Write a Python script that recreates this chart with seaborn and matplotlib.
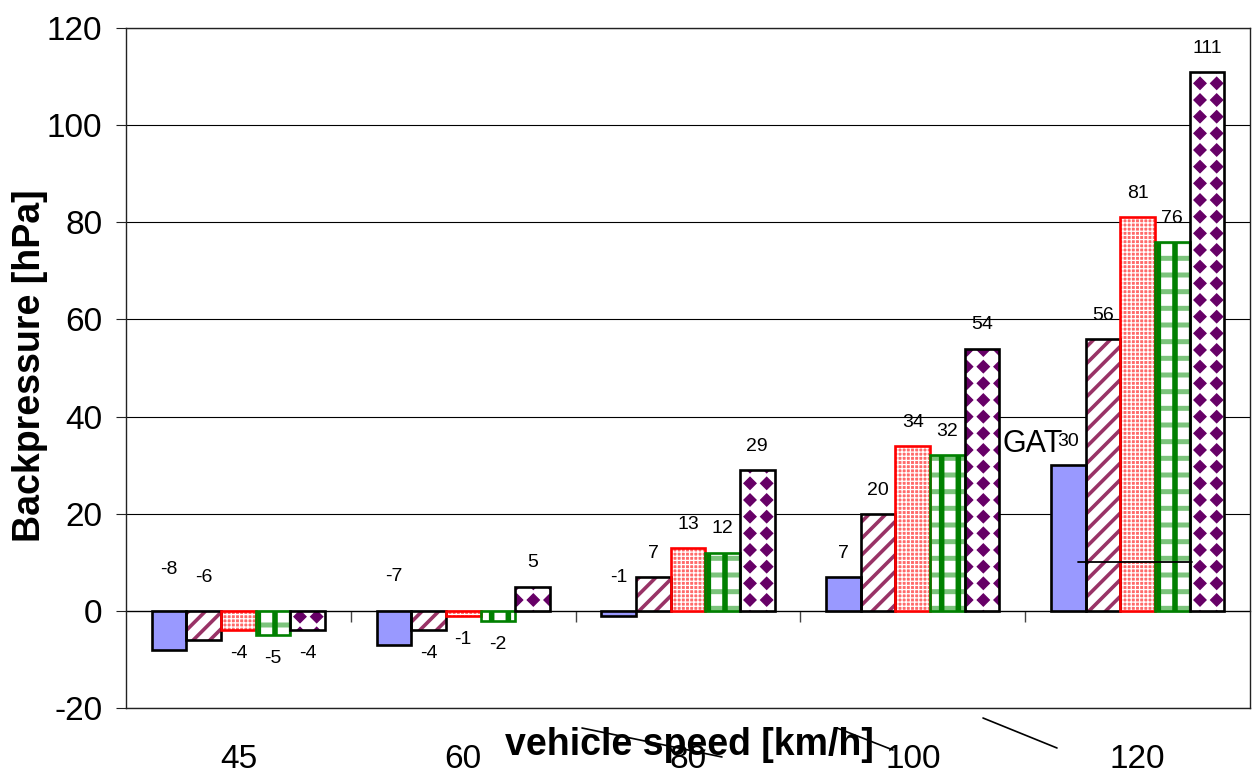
import warnings
import numpy as np
import pandas as pd
import matplotlib
matplotlib.use("Agg")
import matplotlib.pyplot as plt
import matplotlib.hatch as mhatch
from matplotlib.path import Path
from matplotlib.patches import Rectangle
from matplotlib.lines import Line2D
import seaborn as sns

warnings.filterwarnings("ignore")

# ---- data -----------------------------------------------------------------
speeds = ["45", "60", "80", "100", "120"]
variants = ["variant 1", "variant 2", "variant 3", "variant 4", "variant 5"]
variant_1 = [-8, -7, -1, 7, 30]
variant_2 = [-6, -4, 7, 20, 56]
variant_3 = [-4, -1, 13, 34, 81]
variant_4 = [-5, -2, 12, 32, 76]
variant_5 = [-4, 5, 29, 54, 111]
y_ticks = [-20, 0, 20, 40, 60, 80, 100, 120]

series = [variant_1, variant_2, variant_3, variant_4, variant_5]
df = pd.DataFrame(
    [(s, v, vals[i]) for v, vals in zip(variants, series) for i, s in enumerate(speeds)],
    columns=["speed", "variant", "backpressure"],
)


# ---- a filled-diamond hatch (grid of rhombi) ---------------------------------
class DiamondHatch(mhatch.HatchPatternBase):
    def __init__(self, hatch, density):
        self.num_rows = hatch.count("d") * density
        self.num_vertices = 5 * (self.num_rows + 1) ** 2 if self.num_rows else 0

    def set_vertices_and_codes(self, vertices, codes):
        n = self.num_rows
        step = 1.0 / n
        r = 0.36 * step
        shape = np.array([[0, -r], [r, 0], [0, r], [-r, 0], [0, -r]])
        shape_codes = [Path.MOVETO, Path.LINETO, Path.LINETO, Path.LINETO, Path.CLOSEPOLY]
        k = 0
        for i in range(n + 1):
            for j in range(n + 1):
                vertices[k:k + 5] = shape + [i * step, j * step]
                codes[k:k + 5] = shape_codes
                k += 5


mhatch._hatch_types.append(DiamondHatch)

# ---- style ------------------------------------------------------------------
sns.set_theme(style="white")
plt.rcParams["font.family"] = ["Liberation Sans", "DejaVu Sans"]
plt.rcParams["hatch.linewidth"] = 1.0
plt.rcParams["axes.unicode_minus"] = False
for key in ["text.color", "axes.labelcolor", "xtick.color", "ytick.color"]:
    plt.rcParams[key] = "black"

fig = plt.figure(figsize=(12.57, 7.74), dpi=100, facecolor="white")
ax = fig.add_axes([126 / 1257, 1 - 708 / 774, 1124 / 1257, 680 / 774])

sns.barplot(
    data=df, x="speed", y="backpressure", hue="variant",
    order=speeds, hue_order=variants, width=0.77, dodge=True,
    palette=["#9999FF"] * 5, legend=False, ax=ax, errorbar=None,
)

# fill layers per variant: (facecolor, [(hatch, hatch colour, hatch lw)], edge colour)
styles = [
    ("#9999FF", [], "black"),
    ("white", [("//", "#993366", 2.6)], "black"),
    ("#FF6A6A", [("++++", "white", 0.9)], "#FF0000"),
    ("white", [("-", "#7CC47C", 3.6), ("|", "#008000", 4.0)], "#008000"),
    ("white", [("d", "#660066", 1.0)], "black"),
]


def add_layer(p, hatch_lw=None, **kw):
    with plt.rc_context({"hatch.linewidth": hatch_lw if hatch_lw else 1.0}):
        r = Rectangle(p.get_xy(), p.get_width(), p.get_height(), **kw)
        if hatch_lw is not None and hasattr(r, "set_hatch_linewidth"):
            r.set_hatch_linewidth(hatch_lw)
    ax.add_patch(r)
    return r


for i, container in enumerate(ax.containers):
    face, hatches, edge = styles[i]
    for p in container.patches:
        p.set_visible(False)
        add_layer(p, facecolor=face, edgecolor="none", linewidth=0, zorder=2)
        for h, hc, hlw in hatches:
            add_layer(p, hatch_lw=hlw, facecolor="none", edgecolor=hc,
                      hatch=h, linewidth=0, zorder=2.1)
        add_layer(p, facecolor="none", edgecolor=edge, linewidth=1.9, zorder=2.5)

# ---- value labels -------------------------------------------------------------
raised = {(0, 0): 30, (0, 1): 24, (1, 0): 25, (2, 0): 24}
for i, container in enumerate(ax.containers):
    for j, p in enumerate(container.patches):
        val = series[i][j]
        xc = p.get_x() + p.get_width() / 2
        if (j, i) in raised:
            xy, dy = (xc, 0), raised[(j, i)]
        else:
            xy, dy = (xc, val), (17 if val >= 0 else -17)
        ax.annotate(f"{val}", xy=xy, xytext=(0, dy), textcoords="offset points",
                    ha="center", va="center", fontsize=14, color="black", zorder=5)

# ---- axes -----------------------------------------------------------------------
ax.set_xlim(-0.5, 4.5)
ax.set_ylim(-20, 120)
ax.set_yticks(y_ticks)
ax.set_axisbelow(True)
ax.yaxis.grid(True, color="black", linewidth=0.8)
ax.xaxis.grid(False)
for s in ax.spines.values():
    s.set_visible(True)
    s.set_color("#222222")
    s.set_linewidth(1.0)
ax.tick_params(axis="y", direction="out", length=7, width=0.8, color="#222222",
               pad=10, labelsize=24, left=True)
ax.tick_params(axis="x", length=0, pad=26, labelsize=24)

ax.set_ylabel("Backpressure [hPa]", fontsize=27, fontweight="bold")
ax.yaxis.set_label_coords((30 - 126) / 1124, (708 - 366) / 680)
ax.yaxis.label.set_va("center")
ax.set_xlabel("vehicle speed [km/h]", fontsize=27, fontweight="bold")
ax.xaxis.set_label_coords((689 - 126) / 1124, -(745 - 708) / 680)
ax.xaxis.label.set_va("center")

# category axis crossing at zero with separators between groups
zero_axis = ax.secondary_xaxis(20 / 140)
zero_axis.set_xticks([0.5, 1.5, 2.5, 3.5])
zero_axis.set_xticklabels([])
zero_axis.tick_params(length=8, width=1.0, color="#444444", direction="out")
zero_axis.spines["bottom"].set_color("#444444")
zero_axis.spines["bottom"].set_linewidth(1.0)

# free text and drawn lines
ax.text(3.4, 34.3, "GAT", fontsize=22, ha="left", va="center", zorder=4)
ax.plot([3.733, 4.24], [10, 10], color="black", linewidth=1.3, zorder=4)
for (x0, y0), (x1, y1) in [((983, 718), (1057, 748)),
                           ((582, 728), (722, 757)),
                           ((837, 728), (893, 750))]:
    fig.add_artist(Line2D([x0 / 1257, x1 / 1257], [1 - y0 / 774, 1 - y1 / 774],
                          transform=fig.transFigure, color="black", linewidth=1.2))

fig.savefig("out.png", dpi=100, facecolor="white")
